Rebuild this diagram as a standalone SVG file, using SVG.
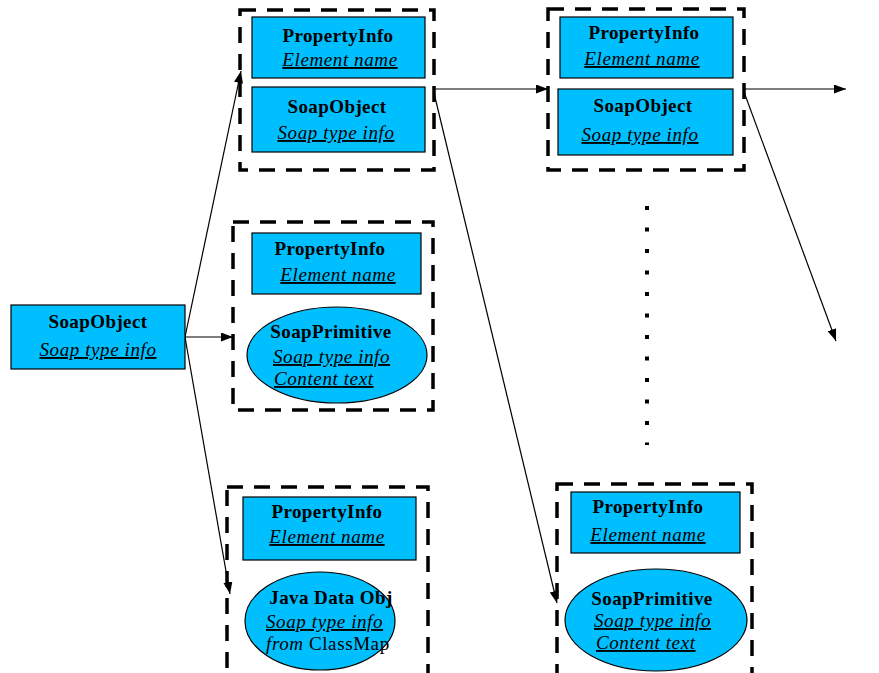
<svg xmlns="http://www.w3.org/2000/svg" width="879" height="673" viewBox="0 0 879 673">
  <style>
    .bg { fill: #ffffff; }
    .node { fill: #00bfff; stroke: #000000; stroke-width: 1.2; }
    .group { fill: none; stroke: #000000; stroke-width: 3.5; stroke-dasharray: 16 11; }
    .title { font-family: "Liberation Serif", "Times New Roman", serif; font-size: 19px; font-weight: bold; fill: #000000; text-anchor: middle; letter-spacing: 0.4px; }
    .sub { font-family: "Liberation Serif", "Times New Roman", serif; font-size: 19px; font-style: italic; fill: #000000; text-decoration: underline; letter-spacing: 0.6px; }
    .mid { text-anchor: middle; }
    .plain { font-style: normal; }
    .edge { fill: none; stroke: #000000; stroke-width: 1.2; }
    .dots { fill: none; stroke: #000000; stroke-width: 4; stroke-dasharray: 4 17.5; }
  </style>
  <defs>
    <marker id="arrow" markerUnits="userSpaceOnUse" markerWidth="13" markerHeight="10" refX="12" refY="4.5" orient="auto">
      <path d="M0,0 L12,4.5 L0,9 Z" fill="#000000"/>
    </marker>
  </defs>

  <rect class="bg" x="0" y="0" width="879" height="673"/>

  <!-- connectors -->
  <g id="connectors">
    <line class="edge" x1="185" y1="337" x2="241" y2="71" marker-end="url(#arrow)"/>
    <line class="edge" x1="185" y1="337" x2="233" y2="337" marker-end="url(#arrow)"/>
    <line class="edge" x1="185" y1="337" x2="230" y2="594" marker-end="url(#arrow)"/>
    <line class="edge" x1="434" y1="89" x2="548" y2="89" marker-end="url(#arrow)"/>
    <line class="edge" x1="434" y1="93" x2="557" y2="603" marker-end="url(#arrow)"/>
    <line class="edge" x1="744" y1="89" x2="846" y2="89" marker-end="url(#arrow)"/>
    <line class="edge" x1="744" y1="92" x2="836" y2="341" marker-end="url(#arrow)"/>
    <line class="dots" x1="647" y1="206" x2="647" y2="445"/>
  </g>

  <!-- root object -->
  <g id="root-soapobject">
    <rect class="node" x="11" y="305" width="174" height="64"/>
    <text class="title" x="98" y="328">SoapObject</text>
    <text class="sub mid" x="98" y="356">Soap type info</text>
  </g>

  <!-- nested SoapObject property -->
  <g id="group-soapobject">
    <rect class="group" x="240" y="10" width="194" height="160"/>
    <rect class="node" x="252" y="17" width="173" height="61"/>
    <text class="title" x="338" y="42">PropertyInfo</text>
    <text class="sub mid" x="340" y="66">Element name</text>
    <rect class="node" x="252" y="87" width="173" height="65"/>
    <text class="title" x="337" y="113">SoapObject</text>
    <text class="sub mid" x="336" y="139">Soap type info</text>
  </g>

  <!-- primitive property -->
  <g id="group-primitive">
    <rect class="group" x="233" y="222" width="200" height="188"/>
    <rect class="node" x="252" y="233" width="169" height="61"/>
    <text class="title" x="330" y="255">PropertyInfo</text>
    <text class="sub mid" x="338" y="281">Element name</text>
    <ellipse class="node" cx="337" cy="355" rx="90" ry="48"/>
    <text class="title" x="331" y="338">SoapPrimitive</text>
    <text class="sub" x="273" y="363">Soap type info</text>
    <text class="sub" x="274" y="385">Content text</text>
  </g>

  <!-- Java object property -->
  <g id="group-java">
    <rect class="group" x="227" y="487" width="201" height="200"/>
    <rect class="node" x="243" y="497" width="173" height="63"/>
    <text class="title" x="327" y="518">PropertyInfo</text>
    <text class="sub mid" x="327" y="543">Element name</text>
    <ellipse class="node" cx="320" cy="621" rx="75" ry="49"/>
    <text class="title" x="331" y="604">Java Data Obj</text>
    <text class="sub" x="266" y="628">Soap type info</text>
    <text class="sub" x="266" y="650" style="text-decoration:none">from <tspan class="plain">ClassMap</tspan></text>
  </g>

  <!-- next-level SoapObject property -->
  <g id="group-soapobject-2">
    <rect class="group" x="548" y="9" width="196" height="161"/>
    <rect class="node" x="560" y="17" width="173" height="61"/>
    <text class="title" x="644" y="39">PropertyInfo</text>
    <text class="sub mid" x="642" y="65">Element name</text>
    <rect class="node" x="558" y="89" width="175" height="66"/>
    <text class="title" x="643" y="112">SoapObject</text>
    <text class="sub mid" x="640" y="141">Soap type info</text>
  </g>

  <!-- next-level primitive property -->
  <g id="group-primitive-2">
    <rect class="group" x="557" y="484" width="195" height="200"/>
    <rect class="node" x="571" y="492" width="169" height="61"/>
    <text class="title" x="648" y="513">PropertyInfo</text>
    <text class="sub mid" x="648" y="541">Element name</text>
    <ellipse class="node" cx="656" cy="620" rx="91" ry="51"/>
    <text class="title" x="652" y="605">SoapPrimitive</text>
    <text class="sub" x="594" y="627">Soap type info</text>
    <text class="sub" x="596" y="649">Content text</text>
  </g>
</svg>
